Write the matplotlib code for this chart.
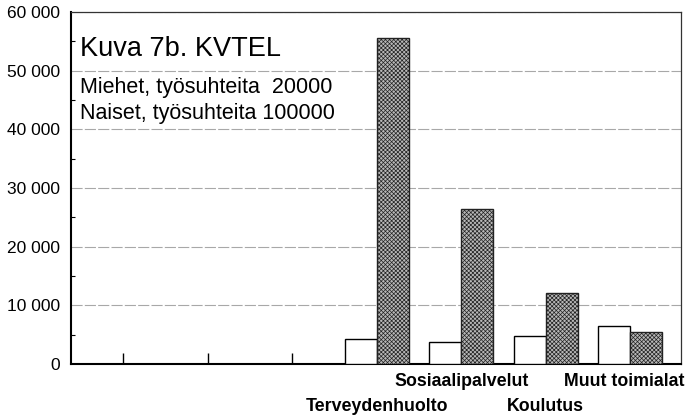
import matplotlib.pyplot as plt
from matplotlib.ticker import FuncFormatter, MultipleLocator
import numpy as np

plt.rcParams['font.family'] = ['Liberation Sans', 'DejaVu Sans']
plt.rcParams['hatch.color'] = '#4a4a4a'
plt.rcParams['hatch.linewidth'] = 0.5

# data
categories = ['', '', '', 'Terveydenhuolto', 'Sosiaalipalvelut', 'Koulutus', 'Muut toimialat']
men = [0, 0, 0, 4200, 3750, 4750, 6500]
women = [0, 0, 0, 55500, 26500, 12100, 5400]
label_row = [0, 0, 0, 2, 1, 2, 1]  # 1 = upper row, 2 = lower row

fig = plt.figure(figsize=(6.92, 4.2), dpi=100)
ax = fig.add_axes([0.1026, 0.1333, 0.8815, 0.8381])

x = np.arange(len(categories))
w = 0.38
for i in range(len(categories)):
    if men[i] > 0:
        ax.bar(x[i] - w / 2, men[i], w, color='white', edgecolor='black', linewidth=1.0, zorder=3)
    if women[i] > 0:
        ax.bar(x[i] + w / 2, women[i], w, color='#b8b8b8', edgecolor='#222222',
               linewidth=1.0, hatch='xxxxxxxx', zorder=3)

ax.set_xlim(-0.615, 6.6)
ax.set_ylim(0, 60000)

ax.yaxis.set_major_locator(MultipleLocator(10000))
ax.yaxis.set_minor_locator(MultipleLocator(5000))
ax.yaxis.set_major_formatter(FuncFormatter(lambda v, p: f"{int(v):,}".replace(',', ' ')))
ax.grid(axis='y', color='#a8a8a8', linestyle=(0, (10, 2)), linewidth=0.8, zorder=0)

ax.set_xticks(x[:3])
ax.set_xticklabels([])
ax.tick_params(axis='x', direction='in', length=8, width=1)
ax.tick_params(axis='y', which='major', direction='in', length=0, labelsize=12.5, pad=8)
ax.tick_params(axis='y', which='minor', direction='in', length=3, width=0.8)

for s in ['left', 'bottom']:
    ax.spines[s].set_linewidth(1.5)
for s in ['top', 'right']:
    ax.spines[s].set_linewidth(0.9)
    ax.spines[s].set_color('#333333')

for i, name in enumerate(categories):
    if name:
        off = -12.5 if label_row[i] == 1 else -30.5
        dx = -4 if i == len(categories) - 1 else 0
        ax.annotate(name, xy=(x[i], 0), xycoords=('data', 'axes fraction'),
                    xytext=(dx, off), textcoords='offset points',
                    ha='center', va='center', fontsize=12.8, fontweight='bold')

fig.text(0.116, 0.884, 'Kuva 7b. KVTEL', fontsize=19.5, va='center')
fig.text(0.115, 0.791, 'Miehet, työsuhteita  20000', fontsize=15.5, va='center')
fig.text(0.115, 0.729, 'Naiset, työsuhteita 100000', fontsize=15.5, va='center')

fig.savefig('out.png', dpi=100)
